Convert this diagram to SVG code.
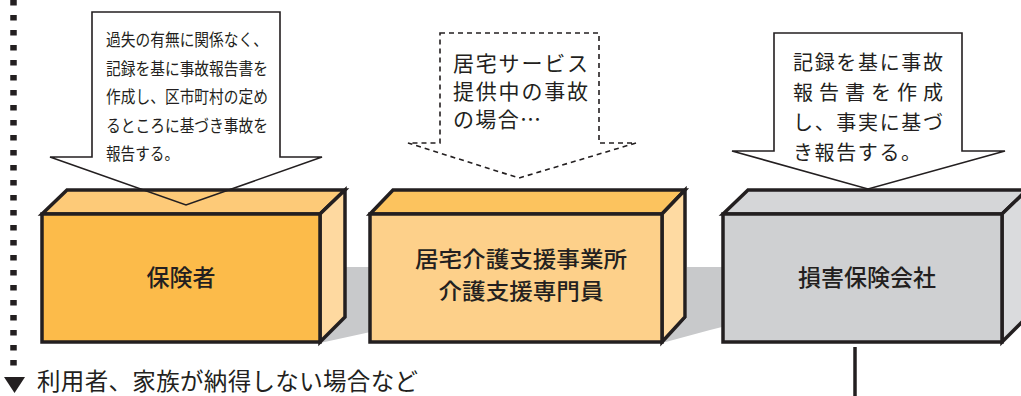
<svg xmlns="http://www.w3.org/2000/svg" width="1021" height="396" viewBox="0 0 1021 396">
<style>
text{font-family:"Noto Sans CJK JP","Noto Sans",sans-serif;fill:#231f20}
.lbl{font-size:23px;font-weight:500;text-anchor:middle}
.lbl2{font-size:22px;font-weight:500;text-anchor:middle}
.c1{font-size:17px}
.c2{font-size:21px}
.c3{font-size:20px}
.edge{stroke:#231f20;stroke-width:3.5;stroke-linejoin:miter}
.co{fill:none;stroke:#231f20;stroke-width:1.6;stroke-linejoin:miter}
.cofill{fill:#fff;stroke:none}
.shadow{fill:#c8c9cb}
</style>
<rect width="1021" height="396" fill="#fff"/>
<g id="shadow">
<polygon class="shadow" points="320,343 345,318 345,267 375,267 375,331"/>
<polygon class="shadow" points="662,343 687,318 687,267 726,267 726,326 710,330"/>
</g>
<g id="callout-fills">
<polygon class="cofill" points="92,12 280,12 280,157 322,157 186,205 50,157 92,157"/>
<polygon class="cofill" points="440,33 599,33 599,143 636,143 519,178 408,143 440,143"/>
<polygon class="cofill" points="774,33 962,33 962,151 1005,151 868,189 732,151 774,151"/>
</g>
<g id="node-hokensha">
<polygon class="edge" fill="#fdca78" points="42,214 67,190 345,190 320,214"/>
<polygon class="edge" fill="#fed9a0" points="320,214 345,190 345,317 320,342"/>
<rect class="edge" fill="#fcbb4a" x="42" y="214" width="278" height="128"/>
<text class="lbl" x="181" y="285.5">保険者</text>
</g>
<g id="node-kyotaku">
<polygon class="edge" fill="#fcc35e" points="370,214 393,190 685,190 662,214"/>
<polygon class="edge" fill="#fedaa2" points="662,214 685,190 685,317 662,342"/>
<rect class="edge" fill="#fdd08a" x="370" y="214" width="292" height="128"/>
<text class="lbl2" x="521" y="266.5" textLength="212" lengthAdjust="spacingAndGlyphs">居宅介護支援事業所</text>
<text class="lbl2" x="521" y="298.5" textLength="165" lengthAdjust="spacingAndGlyphs">介護支援専門員</text>
</g>
<g id="node-songai">
<polygon class="edge" fill="#d5d6d8" points="723,214 748,190 1027,190 1002,214"/>
<polygon class="edge" fill="#dadbdd" points="1002,214 1027,190 1027,317 1002,342"/>
<rect class="edge" fill="#cfd0d2" x="723" y="214" width="279" height="128"/>
<text class="lbl" x="867" y="285.5">損害保険会社</text>
</g>
<g id="callout-hokensha">
<polygon class="co" points="92,12 280,12 280,157 322,157 186,205 50,157 92,157"/>
<text class="c1" x="106" y="46" textLength="162" lengthAdjust="spacingAndGlyphs">過失の有無に関係なく、</text>
<text class="c1" x="106" y="74.5" textLength="162" lengthAdjust="spacingAndGlyphs">記録を基に事故報告書を</text>
<text class="c1" x="106" y="103" textLength="162" lengthAdjust="spacingAndGlyphs">作成し、区市町村の定め</text>
<text class="c1" x="106" y="131.5" textLength="162" lengthAdjust="spacingAndGlyphs">るところに基づき事故を</text>
<text class="c1" x="106" y="160" textLength="73" lengthAdjust="spacingAndGlyphs">報告する。</text>
</g>
<g id="callout-kyotaku">
<polygon class="co" stroke-dasharray="5 4" points="440,33 599,33 599,143 636,143 519,178 408,143 440,143"/>
<text class="c2" x="453" y="70.5" textLength="135" lengthAdjust="spacing">居宅サービス</text>
<text class="c2" x="453" y="98.5" textLength="135" lengthAdjust="spacing">提供中の事故</text>
<text class="c2" x="453" y="127" textLength="88" lengthAdjust="spacing">の場合…</text>
</g>
<g id="callout-songai">
<polygon class="co" points="774,33 962,33 962,151 1005,151 868,189 732,151 774,151"/>
<text class="c3" x="793" y="70" textLength="150" lengthAdjust="spacing">記録を基に事故</text>
<text class="c3" x="793" y="100" textLength="150" lengthAdjust="spacing">報告書を作成</text>
<text class="c3" x="793" y="130" textLength="150" lengthAdjust="spacing">し、事実に基づ</text>
<text class="c3" x="793" y="160" textLength="128" lengthAdjust="spacing">き報告する。</text>
</g>
<g id="connectors">
<line x1="13.5" y1="0" x2="13.5" y2="366" stroke="#231f20" stroke-width="6.5" stroke-dasharray="5.5 9.5"/>
<polygon points="4,377 25,377 14.5,393" fill="#231f20"/>
<line x1="855" y1="347" x2="855" y2="396" stroke="#231f20" stroke-width="3.5"/>
</g>
<text x="37" y="390" font-size="23.5" textLength="381" lengthAdjust="spacing">利用者、家族が納得しない場合など</text>
</svg>
